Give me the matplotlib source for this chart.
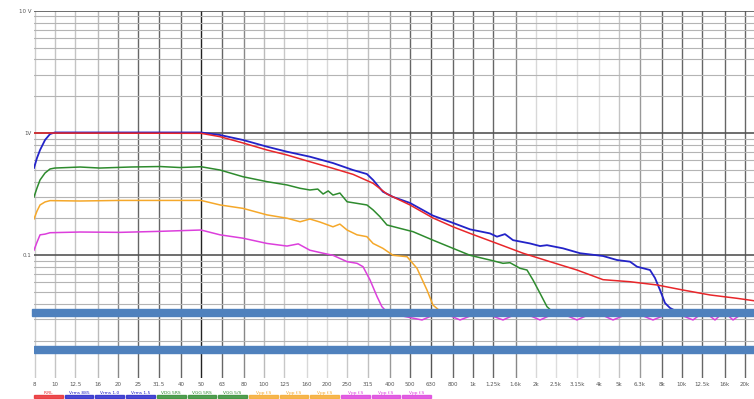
import matplotlib
matplotlib.use("Agg")
import matplotlib.pyplot as plt
from matplotlib.ticker import NullLocator, LogLocator, NullFormatter
from matplotlib.patches import Rectangle

# third-octave band centres (Hz) and their labels
band_freqs = [8, 10, 12.5, 16, 20, 25, 31.5, 40, 50, 63, 80, 100, 125, 160, 200,
              250, 315, 400, 500, 630, 800, 1000, 1250, 1600, 2000, 2500, 3150,
              4000, 5000, 6300, 8000, 10000, 12500, 16000, 20000]
band_labels = ["8", "10", "12.5", "16", "20", "25", "31.5", "40", "50", "63", "80",
               "100", "125", "160", "200", "250", "315", "400", "500", "630", "800",
               "1k", "1.25k", "1.6k", "2k", "2.5k", "3.15k", "4k", "5k", "6.3k", "8k",
               "10k", "12.5k", "16k", "20k"]

y_ticks = [0.1, 1, 10]
y_labels = ["0.1", "1V", "10 V"]

# reference (red)
ref_f = [7.94, 50, 61.7, 79.4, 103.5, 129, 166, 214, 267, 333, 388, 500, 644, 803,
         969, 1304, 1737, 2338, 3148, 4193, 5646, 7600, 10120, 13630, 18340, 22130]
ref_v = [1.0, 0.994, 0.933, 0.829, 0.726, 0.661, 0.582, 0.514, 0.459, 0.388, 0.317,
         0.258, 0.202, 0.171, 0.151, 0.125, 0.104, 0.0887, 0.0758, 0.0632, 0.0608,
         0.0572, 0.0520, 0.0474, 0.0445, 0.0425]

# blue
blue_f = [7.94, 8.21, 8.49, 8.97, 9.48, 10.0, 20, 31.8, 50, 61.7, 79.4, 103.5, 129,
          166, 214, 267, 311, 333, 371, 415, 500, 644, 803, 969, 1207, 1304, 1424,
          1556, 1876, 2095, 2262, 2699, 3254, 4193, 4893, 5646, 6099, 7038, 7435,
          7857, 8302, 8772, 9793, 22130]
blue_v = [0.517, 0.625, 0.726, 0.877, 0.981, 1.01, 1.01, 1.01, 1.01, 0.963, 0.877,
          0.773, 0.703, 0.640, 0.568, 0.498, 0.462, 0.413, 0.331, 0.300, 0.268, 0.211,
          0.184, 0.163, 0.151, 0.142, 0.149, 0.133, 0.125, 0.119, 0.121, 0.114, 0.104,
          0.0987, 0.0915, 0.0887, 0.0807, 0.0758, 0.0652, 0.0520, 0.0407, 0.0371,
          0.0337, 0.0337]

# green
green_f = [7.94, 8.21, 8.49, 8.97, 9.48, 10.0, 13.2, 16.4, 22.9, 31.8, 39.7, 50, 61.7,
           79.4, 103.5, 129, 149, 166, 181, 192, 203, 214, 231, 250, 311, 333, 359,
           388, 448, 517, 644, 803, 969, 1207, 1393, 1505, 1680, 1815, 1939, 2095,
           2262, 2471]
green_v = [0.300, 0.355, 0.413, 0.471, 0.508, 0.517, 0.527, 0.517, 0.527, 0.532, 0.522,
           0.530, 0.498, 0.439, 0.400, 0.376, 0.353, 0.342, 0.348, 0.317, 0.336, 0.311,
           0.323, 0.274, 0.258, 0.235, 0.207, 0.177, 0.166, 0.156, 0.133, 0.114, 0.100,
           0.0915, 0.0860, 0.0870, 0.0783, 0.0758, 0.0628, 0.0489, 0.0380, 0.0331]

# orange
orange_f = [7.94, 8.21, 8.49, 8.97, 9.48, 13.2, 20.5, 31.8, 50, 61.7, 79.4, 103.5, 129,
            149, 166, 185.5, 214, 231, 250, 279, 311, 333, 371, 415, 484, 540, 603,
            644, 696]
orange_v = [0.198, 0.230, 0.258, 0.273, 0.280, 0.278, 0.281, 0.281, 0.281, 0.258,
            0.242, 0.214, 0.201, 0.188, 0.198, 0.187, 0.171, 0.180, 0.161, 0.147,
            0.142, 0.125, 0.114, 0.100, 0.0974, 0.0783, 0.0520, 0.0392, 0.0350]

# magenta
mag_f = [7.94, 8.21, 8.49, 8.97, 9.48, 13.2, 20.5, 31.8, 50, 61.7, 79.4, 103.5, 129,
         146, 166, 192, 214, 250, 279, 298, 322, 348, 367, 392,
         571, 704, 868, 1094, 1393, 1699, 2095, 2554, 3148, 3839, 4680, 5834, 7270,
         9066, 11300, 12760, 14400, 15900, 17560, 20050]
mag_v = [0.110, 0.128, 0.147, 0.149, 0.153, 0.155, 0.154, 0.157, 0.161, 0.147, 0.138,
         0.125, 0.119, 0.124, 0.110, 0.104, 0.100, 0.0887, 0.0860, 0.0807, 0.0628,
         0.0459, 0.0380, 0.0337,
         0.0296, 0.0345, 0.0296, 0.0345, 0.0296, 0.0345, 0.0296, 0.0345, 0.0296,
         0.0345, 0.0296, 0.0345, 0.0296, 0.0345, 0.0296, 0.0345, 0.0296, 0.0345,
         0.0296, 0.0345]

legend_labels = ["R.RL", "Vrms 885", "Vrms 1.0", "Vrms 1.5", "VDG 5RS", "VGG 5RS",
                 "VGG 5/S", "Vpp f.S", "Vpp f.S", "Vpp f.S", "Vpp f.S", "Vpp f.S",
                 "Vpp f.S"]

c_red = "#e8262a"
c_blue = "#2323c8"
c_green = "#2e8b2e"
c_orange = "#f5a82a"
c_mag = "#dc3fdc"
legend_colors = [c_red] + [c_blue] * 3 + [c_green] * 3 + [c_orange] * 3 + [c_mag] * 3

# grid shades of the vertical band lines
vshade = ["#cccccc", "#c4c4c4", "#c4c4c4", "#bbbbbb", "#888888", "#666666", "#666666",
          "#666666", "#222222", "#666666", "#888888", "#bbbbbb", "#c8c8c8", "#d8d8d8",
          "#d8d8d8", "#c8c8c8", "#c0c0c0", "#999999", "#666666", "#555555", "#666666",
          "#666666", "#666666", "#888888", "#d8d8d8", "#dddddd", "#dddddd", "#dddddd",
          "#c4c4c4", "#999999", "#666666", "#666666", "#666666", "#666666", "#666666"]

fig = plt.figure(figsize=(7.54, 3.99), dpi=100)
ax = fig.add_axes([34 / 754, 1 - 377.6 / 399, 720 / 754, (377.6 - 10.7) / 399])
ax.set_xscale("log")
ax.set_yscale("log")
ax.set_xlim(10 ** 0.9, 22130)
ax.set_ylim(0.01, 10)

for f, c in zip(band_freqs, vshade):
    ax.axvline(f, color=c, lw=1.0, zorder=1)

ax.yaxis.set_minor_locator(LogLocator(base=10, subs=range(2, 10)))
ax.yaxis.set_minor_formatter(NullFormatter())
ax.grid(axis="y", which="minor", color="#b4b4b4", lw=0.8, zorder=1)
ax.grid(axis="y", which="major", color="#555555", lw=1.2, zorder=1)

ax.plot(blue_f, blue_v, color=c_blue, lw=1.3, zorder=4)
ax.plot(green_f, green_v, color=c_green, lw=1.1, zorder=3)
ax.plot(orange_f, orange_v, color=c_orange, lw=1.1, zorder=3)
ax.plot(mag_f, mag_v, color=c_mag, lw=1.1, zorder=3)
ax.plot(ref_f, ref_v, color=c_red, lw=1.1, zorder=5)

# redaction bars
ax.axhspan(0.0319, 0.0364, xmin=-0.003, xmax=1, color="#4f81bd", zorder=6, clip_on=False)
ax.axhspan(0.0160, 0.0180, xmin=0.0, xmax=1, color="#4f81bd", zorder=6)

ax.set_xticks(band_freqs)
ax.set_xticklabels(band_labels)
ax.xaxis.set_minor_locator(NullLocator())
ax.set_yticks(y_ticks)
ax.set_yticklabels(y_labels)
ax.tick_params(axis="both", which="both", length=0, labelsize=4, colors="#555555")
ax.tick_params(axis="x", pad=3)
ax.tick_params(axis="y", pad=2)
for sp in ax.spines.values():
    sp.set_visible(False)

# legend strip under the axis
x0 = 33
w = 30.7
for i, (lab, col) in enumerate(zip(legend_labels, legend_colors)):
    xl = x0 + i * w
    fig.patches.append(Rectangle(((xl + 1) / 754, 1 - 398 / 399), (w - 2) / 754, 3 / 399,
                                 transform=fig.transFigure, color=col, alpha=0.8))
    fig.text((xl + w / 2) / 754, 1 - 393 / 399, lab, fontsize=3.2, color=col,
             ha="center", va="center")

fig.savefig("out.png", dpi=100)
